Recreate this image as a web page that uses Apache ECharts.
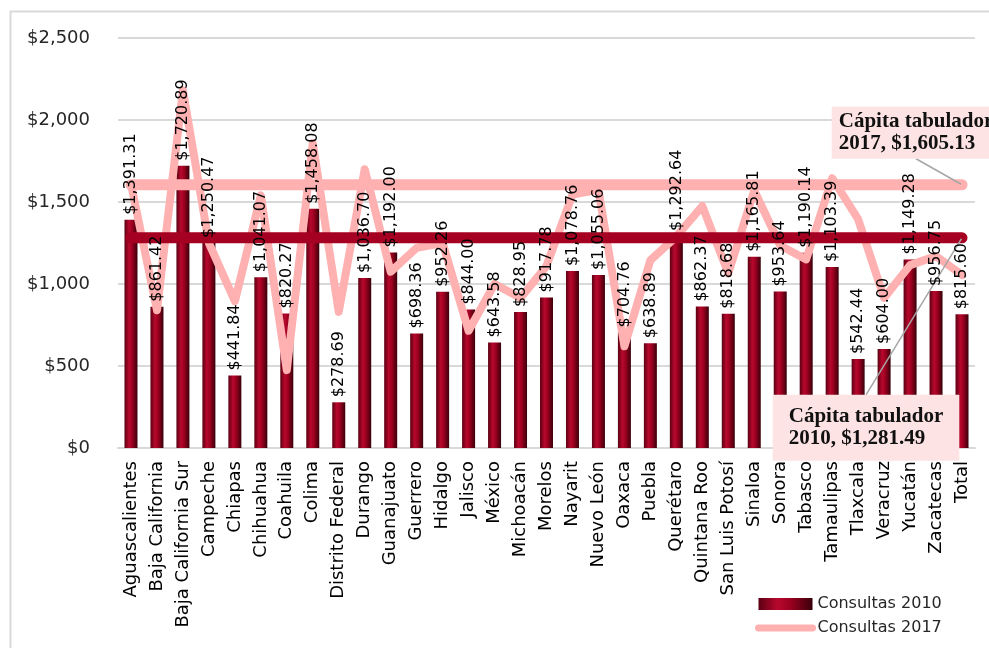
<!DOCTYPE html>
<html>
<head>
<meta charset="utf-8">
<script src="https://cdn.jsdelivr.net/npm/echarts@6/dist/echarts.min.js"></script>
<style>
  html, body { margin: 0; padding: 0; background: #fff; }
  #chart { width: 989px; height: 648px; }
</style>
</head>
<body>
<div id="chart"></div>
<script>
// States (plus national total)
const categories = [
  'Aguascalientes', 'Baja California', 'Baja California Sur', 'Campeche', 'Chiapas',
  'Chihuahua', 'Coahuila', 'Colima', 'Distrito Federal', 'Durango', 'Guanajuato',
  'Guerrero', 'Hidalgo', 'Jalisco', 'México', 'Michoacán', 'Morelos', 'Nayarit',
  'Nuevo León', 'Oaxaca', 'Puebla', 'Querétaro', 'Quintana Roo', 'San Luis Potosí',
  'Sinaloa', 'Sonora', 'Tabasco', 'Tamaulipas', 'Tlaxcala', 'Veracruz', 'Yucatán',
  'Zacatecas', 'Total'
];

// Cost per consultation, 2010
const consultas2010 = [
  1391.31, 861.42, 1720.89, 1250.47, 441.84, 1041.07, 820.27, 1458.08, 278.69, 1036.70,
  1192.00, 698.36, 952.26, 844.00, 643.58, 828.95, 917.78, 1078.76, 1055.06, 704.76,
  638.89, 1292.64, 862.37, 818.68, 1165.81, 953.64, 1190.14, 1103.39, 542.44, 604.00,
  1149.28, 956.75, 815.60
];

// Cost per consultation, 2017
const consultas2017 = [
  1610, 840, 2180, 1250, 895, 1540, 475, 1860, 830, 1700,
  1075, 1220, 1250, 715, 1000, 915, 1110, 1545, 1575, 620,
  1145, 1290, 1475, 1065, 1570, 1235, 1150, 1645, 1395, 915,
  1115, 1170, 1055
];

// Per-capita tabulated amounts
const tabuladorNombre = 'Cápita tabulador';
const tabulador2010 = 1281.49;
const tabulador2017 = 1605.13;

// Value axis
const yMin = 0;
const yMax = 2500;
const yStep = 500;

function money(v, decimals) {
  const parts = Number(v).toFixed(decimals).split('.');
  parts[0] = parts[0].replace(/\B(?=(\d{3})+(?!\d))/g, ',');
  return '$' + parts.join('.');
}

const last = categories.length - 1;

function tabuladorData(value, year, box) {
  return categories.map(function (c, i) {
    if (i !== last) return value;
    return {
      value: value,
      symbol: 'circle',
      symbolSize: 2,
      label: {
        show: true,
        formatter: function (p) { return tabuladorNombre + '\n' + year + ', ' + money(p.value, 2); },
        fontFamily: 'Liberation Serif',
        fontWeight: 'bold',
        fontSize: 21,
        lineHeight: 22,
        color: '#111',
        backgroundColor: '#fde3e3',
        padding: box.padding,
        align: 'left'
      },
      labelLine: { show: true, lineStyle: { color: '#a6a6a6', width: 1.5 } }
    };
  });
}

// Callout placement relative to the end of each tabulated line
const callout2017 = { dx: -46, dy: -52, padding: [4, 7, 4, 7], edge: 'bottom' };
const callout2010 = { dx: -96, dy: 190, padding: [11, 16, 11, 16], edge: 'top' };

function calloutLayout(box) {
  return function (p) {
    const ax = p.rect.x + p.rect.width / 2;
    const ay = p.rect.y + p.rect.height / 2;
    const cx = ax + box.dx;
    const cy = ay + box.dy;
    const h = p.labelRect.height;
    const w = p.labelRect.width;
    const ey = box.edge === 'bottom' ? cy + h / 2 : cy - h / 2;
    return {
      x: cx - w / 2, y: cy, align: 'left', verticalAlign: 'middle',
      labelLinePoints: [[ax, ay], [cx, ey]]
    };
  };
}

const barGradient = new echarts.graphic.LinearGradient(0, 0, 1, 0, [
  { offset: 0, color: '#5a0012' },
  { offset: 0.35, color: '#b8082d' },
  { offset: 0.6, color: '#9a001f' },
  { offset: 1, color: '#38000a' }
]);

const pink = '#ffb0b0';
const darkRed = '#a50021';

const valueLabel = {
  show: true, position: 'top', distance: 5, rotate: 90,
  align: 'left', verticalAlign: 'middle',
  fontFamily: 'DejaVu Sans', fontSize: 16, color: '#000',
  formatter: function (p) { return money(p.value, 2); }
};

const chart = echarts.init(document.getElementById('chart'), null, { renderer: 'canvas' });

chart.setOption({
  animation: false,
  backgroundColor: '#fff',
  graphic: [{
    type: 'rect',
    left: 8, top: 9,
    shape: { width: 1000, height: 700 },
    style: { fill: 'none', stroke: '#d9d9d9', lineWidth: 2 },
    silent: true
  }],
  grid: { left: 118, right: 14, top: 38, bottom: 200, containLabel: false },
  legend: {
    orient: 'vertical',
    left: 755, top: 596,
    padding: 0,
    itemWidth: 54, itemHeight: 12, itemGap: 8,
    textStyle: { fontFamily: 'DejaVu Sans', fontSize: 16, color: '#262626' },
    data: [
      { name: 'Consultas 2010', icon: 'rect' },
      { name: 'Consultas 2017', itemStyle: { opacity: 0 }, lineStyle: { width: 7, cap: 'round' } }
    ]
  },
  xAxis: {
    type: 'category',
    data: categories,
    boundaryGap: true,
    axisLine: { lineStyle: { color: '#d9d9d9', width: 2 } },
    axisTick: { show: false },
    axisLabel: {
      rotate: 90, interval: 0, margin: 13,
      fontFamily: 'DejaVu Sans', fontSize: 18, color: '#000'
    }
  },
  yAxis: {
    type: 'value',
    min: yMin, max: yMax, interval: yStep,
    axisLine: { show: false },
    axisTick: { show: false },
    splitLine: { lineStyle: { color: '#d9d9d9', width: 2 } },
    axisLabel: {
      margin: 28,
      fontFamily: 'DejaVu Sans', fontSize: 18, color: '#262626',
      formatter: function (v) { return money(v, 0); }
    }
  },
  series: [
    {
      name: 'Consultas 2010',
      type: 'bar',
      data: consultas2010,
      barWidth: 13,
      barGap: '-100%',
      itemStyle: { color: barGradient },
      z: 2
    },
    {
      name: 'Consultas 2017',
      type: 'line',
      data: consultas2017,
      symbol: 'none',
      lineStyle: { color: pink, width: 8, cap: 'round', join: 'round' },
      itemStyle: { color: pink },
      z: 3
    },
    {
      name: 'Cápita tabulador 2010',
      type: 'line',
      data: tabuladorData(tabulador2010, '2010', callout2010),
      symbol: 'none',
      lineStyle: { color: darkRed, width: 11, cap: 'round' },
      itemStyle: { color: darkRed },
      labelLayout: calloutLayout(callout2010),
      z: 4
    },
    {
      name: 'Cápita tabulador 2017',
      type: 'line',
      data: tabuladorData(tabulador2017, '2017', callout2017),
      symbol: 'none',
      lineStyle: { color: pink, width: 11, cap: 'round' },
      itemStyle: { color: pink },
      labelLayout: calloutLayout(callout2017),
      z: 4
    },
    {
      // value labels for the 2010 bars, kept above the lines
      name: 'Etiquetas 2010',
      type: 'bar',
      data: consultas2010,
      barWidth: 13,
      barGap: '-100%',
      itemStyle: { color: 'rgba(0,0,0,0)' },
      label: valueLabel,
      silent: true,
      z: 6
    }
  ]
});
</script>
</body>
</html>
